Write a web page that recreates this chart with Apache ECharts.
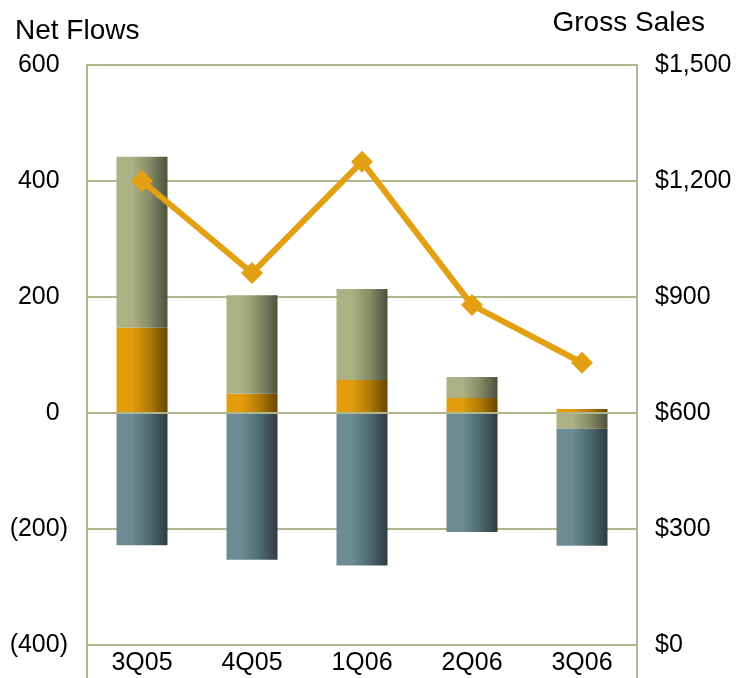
<!DOCTYPE html>
<html>
<head>
<meta charset="utf-8">
<script src="https://cdn.jsdelivr.net/npm/echarts@6/dist/echarts.min.js"></script>
<style>html,body{margin:0;padding:0;background:#fff;}#c{width:738px;height:678px;}</style>
</head>
<body>
<div id="c"></div>
<script>
const categories = ['3Q05', '4Q05', '1Q06', '2Q06', '3Q06'];
const orangeVals = [147, 33, 57, 26, 7];
const oliveVals = [295, 170, 157, 36, -27];
const slateVals = [-228, -253, -263, -205, -202];
const grossSales = [1200, 962, 1250, 879, 730];
const leftTicks = { min: -400, max: 600, interval: 200 };
const rightTicks = { min: 0, max: 1500, interval: 300 };

const GRID = '#B2B68C';
const FONT = 'Liberation Sans, Arial, sans-serif';
function grad(a, b, c) {
  return { type: 'linear', x: 0, y: 0, x2: 1, y2: 0,
    colorStops: [{ offset: 0, color: a }, { offset: 0.3, color: a }, { offset: 0.65, color: b }, { offset: 1, color: c }] };
}

const chart = echarts.init(document.getElementById('c'));
chart.setOption({
  animation: false,
  backgroundColor: '#fff',
  textStyle: { fontFamily: FONT },
  title: [
    { text: 'Net Flows', left: 10, top: 12, textStyle: { fontSize: 28, fontWeight: 'normal', color: '#000', fontFamily: FONT } },
    { text: 'Gross Sales', right: 28, top: 4, textStyle: { fontSize: 28, fontWeight: 'normal', color: '#000', fontFamily: FONT } }
  ],
  grid: { left: 87, right: 101, top: 65, bottom: 33, containLabel: false },
  xAxis: {
    type: 'category',
    data: categories,
    boundaryGap: true,
    axisLine: { show: true, onZero: false, lineStyle: { color: GRID, width: 2 } },
    axisTick: { show: true, length: 40, interval: function (i) { return i === 0; }, lineStyle: { color: GRID, width: 2 } },
    axisLabel: { color: '#000', fontSize: 25, margin: 6, fontFamily: FONT }
  },
  yAxis: [
    {
      type: 'value', position: 'left',
      min: leftTicks.min, max: leftTicks.max, interval: leftTicks.interval,
      axisLine: { show: true, lineStyle: { color: GRID, width: 2 } },
      axisTick: { show: false },
      splitLine: { show: true, lineStyle: { color: GRID, width: 2 } },
      axisLabel: {
        color: '#000', fontSize: 25, margin: 19, fontFamily: FONT,
        formatter: function (v) { return v < 0 ? '(' + (-v) + ')' : v + '{h|)}'; },
        rich: { h: { color: 'rgba(0,0,0,0)', fontSize: 25, fontFamily: FONT } }
      }
    },
    {
      type: 'value', position: 'right',
      min: rightTicks.min, max: rightTicks.max, interval: rightTicks.interval,
      axisLine: { show: true, lineStyle: { color: GRID, width: 2 } },
      axisTick: { show: false },
      splitLine: { show: false },
      axisLabel: {
        color: '#000', fontSize: 25, margin: 18, fontFamily: FONT,
        formatter: function (v) { return '$' + v.toLocaleString('en-US'); }
      }
    }
  ],
  series: [
    { name: 'Orange', type: 'bar', stack: 'nf', barWidth: 51, data: orangeVals,
      itemStyle: { color: grad('#E39D0C', '#B07A05', '#684600') } },
    { name: 'Olive', type: 'bar', stack: 'nf', barWidth: 51, data: oliveVals,
      itemStyle: { color: grad('#ADB286', '#878B66', '#4D513B') } },
    { name: 'Slate', type: 'bar', stack: 'nf', barWidth: 51, data: slateVals, z: 3,
      itemStyle: { color: grad('#6B8C93', '#4F6A70', '#2E3C40') },
      markLine: { silent: true, symbol: 'none', label: { show: false },
        lineStyle: { color: GRID, width: 2, type: 'solid' },
        data: [{ yAxis: 0 }] } },
    { name: 'Gross Sales', type: 'line', yAxisIndex: 1, data: grossSales, z: 5,
      symbol: 'diamond', symbolSize: 22,
      lineStyle: { color: '#E2A012', width: 6 },
      itemStyle: { color: '#E2A012' } }
  ]
});
</script>
</body>
</html>
